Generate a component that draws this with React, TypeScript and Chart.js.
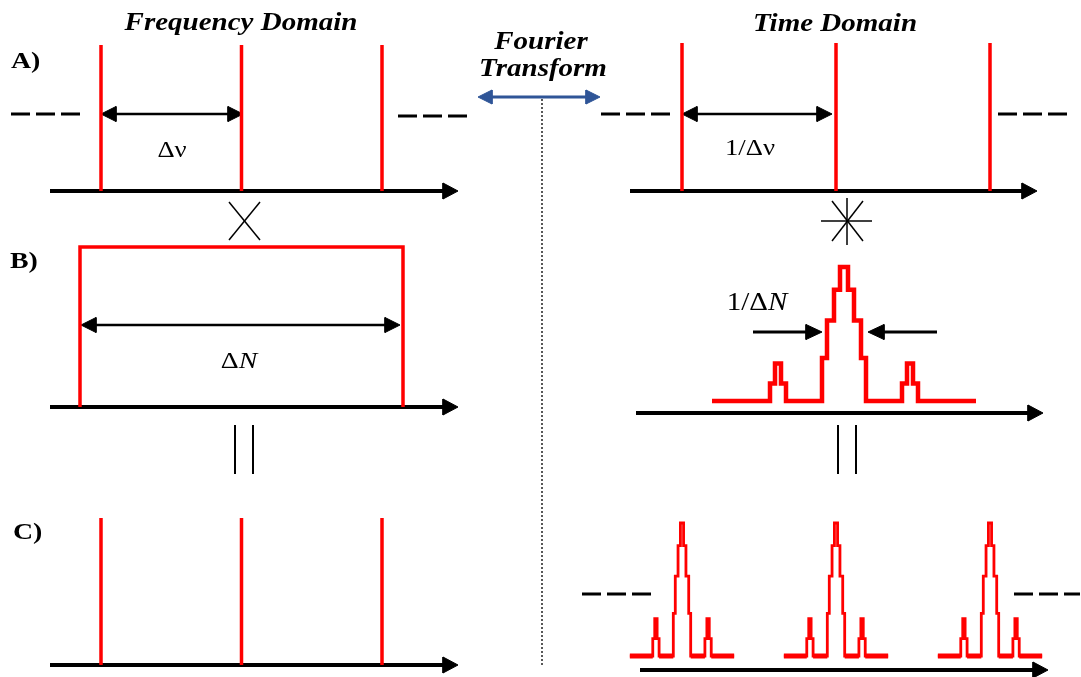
import React, { useEffect, useRef } from 'react';
import { Chart, registerables } from 'chart.js';

Chart.register(...registerables);

const W = 1081;
const H = 677;

// ---- diagram data ----
const combModes = [-1, 0, 1];              // comb tooth indices
const freqSpacing = 140.5;                  // Δν (diagram units)
const timeSpacing = 154;                    // 1/Δν (diagram units)
// stepped pulse envelope (time offsets of the steps, and level of each step, 1 = peak)
const pulseEdges = [-132, -74, -69, -63, -58, -22, -17, -10, -4, 4, 10, 17, 22, 58, 63, 69, 74, 132];
const pulseLevels = [0, 0.13, 0.28, 0.13, 0, 0.32, 0.6, 0.83, 1, 0.83, 0.6, 0.32, 0, 0.13, 0.28, 0.13, 0];
const panelLabels = ['A)', 'B)', 'C)'];
const columnTitles = ['Frequency Domain', 'Time Domain'];
const transformLabel = ['Fourier', 'Transform'];

const RED = '#ff0000';
const BLACK = '#000000';
const BLUE = '#2f5597';
const FONT = '"Liberation Serif", "Times New Roman", serif';
const STRETCH = 1.16;

type P = { x: number; y: number };

function buildDatasets() {
  const ds: any[] = [];
  const line = (pts: P[], color: string, width: number, order: number, dash: number[] = []) => {
    ds.push({
      data: pts,
      showLine: true,
      borderColor: color,
      backgroundColor: color,
      borderWidth: width,
      borderDash: dash,
      borderCapStyle: 'butt',
      borderJoinStyle: 'miter',
      pointRadius: 0,
      pointHoverRadius: 0,
      fill: false,
      tension: 0,
      clip: false,
      order,
    });
  };
  const head = (tip: P, dir: number, len: number, half: number, color: string, order: number) => {
    ds.push({
      data: [tip, { x: tip.x - dir * len, y: tip.y - half }, { x: tip.x - dir * len, y: tip.y + half }, tip],
      showLine: true,
      borderColor: color,
      backgroundColor: color,
      borderWidth: 1,
      pointRadius: 0,
      pointHoverRadius: 0,
      fill: 'shape',
      tension: 0,
      clip: false,
      order,
    });
  };
  const axis = (x0: number, x1: number, y: number) => {
    line([{ x: x0, y }, { x: x1 - 14, y }], BLACK, 4, 2);
    head({ x: x1, y }, 1, 15, 8, BLACK, 2);
  };
  const dbl = (x0: number, x1: number, y: number) => {
    line([{ x: x0 + 12, y }, { x: x1 - 12, y }], BLACK, 2.5, 2);
    head({ x: x0, y }, -1, 15, 7.5, BLACK, 2);
    head({ x: x1, y }, 1, 15, 7.5, BLACK, 2);
  };
  const dashed = (x0: number, x1: number, y: number) => line([{ x: x0, y }, { x: x1, y }], BLACK, 3, 2, [19, 6]);
  const pulse = (cx: number, base: number, amp: number, sx: number, width: number, baseWidth: number) => {
    const pts: P[] = [];
    for (let i = 0; i < pulseLevels.length; i++) {
      const yv = base - pulseLevels[i] * amp;
      pts.push({ x: cx + pulseEdges[i] * sx, y: yv });
      pts.push({ x: cx + pulseEdges[i + 1] * sx, y: yv });
      if (pulseLevels[i] === 0 && baseWidth > width) {
        line([{ x: cx + pulseEdges[i] * sx, y: yv }, { x: cx + pulseEdges[i + 1] * sx, y: yv }], RED, baseWidth, 0);
      }
    }
    line(pts, RED, width, 0);
  };

  // ---- A) frequency comb ----
  axis(50, 458, 191);
  combModes.forEach((m) => line([{ x: 241.5 + m * freqSpacing, y: 45 }, { x: 241.5 + m * freqSpacing, y: 191 }], RED, 3.5, 0));
  dashed(11, 80, 114);
  dashed(398, 467, 116);
  dbl(101, 243, 114);

  // ---- A) time comb ----
  axis(630, 1037, 191);
  combModes.forEach((m) => line([{ x: 836 + m * timeSpacing, y: 43 }, { x: 836 + m * timeSpacing, y: 191 }], RED, 3.5, 0));
  dashed(601, 670, 114);
  dashed(998, 1068, 114);
  dbl(682, 832, 114);

  // multiply / convolve symbols
  line([{ x: 229, y: 202 }, { x: 260, y: 240 }], BLACK, 1.5, 2);
  line([{ x: 260, y: 202 }, { x: 229, y: 240 }], BLACK, 1.5, 2);
  line([{ x: 847, y: 198 }, { x: 847, y: 245 }], BLACK, 1.5, 2);
  line([{ x: 821, y: 221 }, { x: 872, y: 221 }], BLACK, 1.5, 2);
  line([{ x: 832, y: 201 }, { x: 863, y: 241 }], BLACK, 1.5, 2);
  line([{ x: 863, y: 201 }, { x: 832, y: 241 }], BLACK, 1.5, 2);

  // ---- B) rectangular window ----
  axis(50, 458, 407);
  line([{ x: 80, y: 407 }, { x: 80, y: 247 }, { x: 403, y: 247 }, { x: 403, y: 407 }], RED, 3.5, 0);
  dbl(81, 400, 325);

  // ---- B) single pulse ----
  axis(636, 1043, 413);
  pulse(844, 401, 134, 1, 4.5, 4.5);
  line([{ x: 753, y: 332 }, { x: 810, y: 332 }], BLACK, 3, 2);
  head({ x: 822, y: 332 }, 1, 16, 7.5, BLACK, 2);
  line([{ x: 880, y: 332 }, { x: 937, y: 332 }], BLACK, 3, 2);
  head({ x: 868, y: 332 }, -1, 16, 7.5, BLACK, 2);

  // equal signs
  [235, 253, 838, 856].forEach((x) => line([{ x, y: 425 }, { x, y: 474 }], BLACK, 2, 2));

  // ---- C) frequency comb ----
  axis(50, 458, 665);
  combModes.forEach((m) => line([{ x: 241.5 + m * freqSpacing, y: 518 }, { x: 241.5 + m * freqSpacing, y: 665 }], RED, 3.5, 0));

  // ---- C) pulse train ----
  axis(640, 1048, 670);
  combModes.forEach((m) => pulse(836 + m * timeSpacing, 656, 133, 0.395, 2.8, 5));
  dashed(582, 651, 594);
  dashed(1014, 1080, 594);

  // ---- Fourier transform arrow and divider ----
  line([{ x: 490, y: 97 }, { x: 588, y: 97 }], BLUE, 3, 1);
  head({ x: 478, y: 97 }, -1, 14, 7, BLUE, 1);
  head({ x: 600, y: 97 }, 1, 14, 7, BLUE, 1);
  line([{ x: 542, y: 99 }, { x: 542, y: 665 }], '#222222', 1.5, 3, [2, 2]);

  return ds;
}

type Seg = { t: string; style: string };
type TextItem = { segs: Seg[]; size: number; x: number; y: number; align: 'center' | 'left' };

const textItems: TextItem[] = [
  { segs: [{ t: columnTitles[0], style: 'italic bold' }], size: 25, x: 241, y: 30, align: 'center' },
  { segs: [{ t: columnTitles[1], style: 'italic bold' }], size: 25, x: 835, y: 31, align: 'center' },
  { segs: [{ t: transformLabel[0], style: 'italic bold' }], size: 25, x: 541, y: 49, align: 'center' },
  { segs: [{ t: transformLabel[1], style: 'italic bold' }], size: 25, x: 543, y: 76, align: 'center' },
  { segs: [{ t: panelLabels[0], style: 'bold' }], size: 24, x: 11, y: 68, align: 'left' },
  { segs: [{ t: panelLabels[1], style: 'bold' }], size: 24, x: 10, y: 268, align: 'left' },
  { segs: [{ t: panelLabels[2], style: 'bold' }], size: 24, x: 13, y: 539, align: 'left' },
  { segs: [{ t: 'Δν', style: '' }], size: 23, x: 172, y: 157, align: 'center' },
  { segs: [{ t: '1/Δν', style: '' }], size: 23, x: 750, y: 155, align: 'center' },
  { segs: [{ t: 'Δ', style: '' }, { t: 'N', style: 'italic' }], size: 24, x: 239, y: 368, align: 'center' },
  { segs: [{ t: '1/Δ', style: '' }, { t: 'N', style: 'italic' }], size: 25, x: 757, y: 310, align: 'center' },
];

const textPlugin = {
  id: 'diagramTexts',
  afterDatasetsDraw(chart: any) {
    const ctx: CanvasRenderingContext2D = chart.ctx;
    const xs = chart.scales.x;
    const ys = chart.scales.y;
    ctx.save();
    ctx.fillStyle = BLACK;
    ctx.textBaseline = 'alphabetic';
    ctx.textAlign = 'left';
    for (const it of textItems) {
      let total = 0;
      const widths = it.segs.map((s) => {
        ctx.font = `${s.style} ${it.size}px ${FONT}`;
        const w = ctx.measureText(s.t).width;
        total += w;
        return w;
      });
      const px = xs.getPixelForValue(it.x);
      const py = ys.getPixelForValue(it.y);
      const start = it.align === 'center' ? px - (total * STRETCH) / 2 : px;
      ctx.save();
      ctx.translate(start, py);
      ctx.scale(STRETCH, 1);
      let lx = 0;
      it.segs.forEach((s, i) => {
        ctx.font = `${s.style} ${it.size}px ${FONT}`;
        ctx.fillText(s.t, lx, 0);
        lx += widths[i];
      });
      ctx.restore();
    }
    ctx.restore();
  },
};

export default function App() {
  const ref = useRef<HTMLCanvasElement | null>(null);
  useEffect(() => {
    if (!ref.current) return;
    const chart = new Chart(ref.current, {
      type: 'scatter',
      data: { datasets: buildDatasets() },
      options: {
        animation: false,
        responsive: false,
        maintainAspectRatio: false,
        devicePixelRatio: 1,
        layout: { padding: 0 },
        events: [],
        scales: {
          x: { type: 'linear', min: 0, max: W, display: false },
          y: { type: 'linear', min: 0, max: H, reverse: true, display: false },
        },
        plugins: {
          legend: { display: false },
          tooltip: { enabled: false },
        },
      } as any,
      plugins: [textPlugin as any],
    });
    return () => chart.destroy();
  }, []);
  return (
    <div style={{ position: 'fixed', left: 0, top: 0, width: W, height: H, background: '#ffffff' }}>
      <canvas ref={ref} width={W} height={H} style={{ display: 'block', width: W, height: H }} />
    </div>
  );
}
